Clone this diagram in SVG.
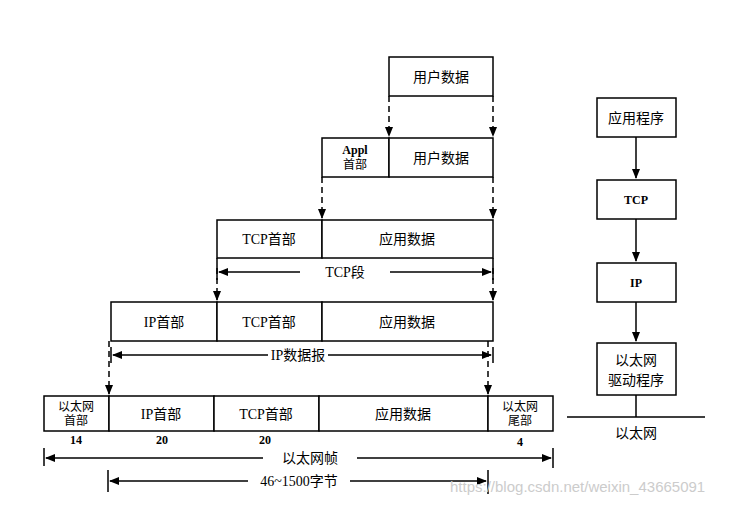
<svg xmlns="http://www.w3.org/2000/svg" width="730" height="505" viewBox="0 0 730 505">
<style>
.b{fill:#fff;stroke:#000;stroke-width:1.5}
.t{font-family:"Liberation Serif","Noto Sans CJK SC",serif;font-size:14px;text-anchor:middle;dominant-baseline:central}
.s{font-size:12px}
.d{stroke:#000;stroke-width:1.5;stroke-dasharray:6,4;fill:none;marker-end:url(#a)}
.l{stroke:#000;stroke-width:1.5;fill:none}
.m{marker-end:url(#a)}
</style>
<defs><marker id="a" markerWidth="10" markerHeight="8" refX="9" refY="4" orient="auto" markerUnits="userSpaceOnUse"><path d="M0,0L10,4L0,8z"/></marker></defs>
<rect width="730" height="505" fill="#fff"/>
<g id="connectors">
<path class="d" d="M389,96V136"/><path class="d" d="M493,96V136"/><path class="d" d="M322,177V218"/><path class="d" d="M493,177V218"/><path class="d" d="M217,258V300"/><path class="d" d="M493,258V300"/><path class="d" d="M109,341V394"/><path class="d" d="M488,341V394"/>
<path class="l m" d="M300,272H219"/><path class="l m" d="M390,272H491"/><path class="l m" d="M268,355H113"/><path class="l m" d="M328,355H491"/><path class="l m" d="M263,458H46"/><path class="l m" d="M357,458H551"/><path class="l m" d="M248,481H110"/><path class="l m" d="M350,481H486"/>
<path class="l" d="M217,264V280M493,264V280M111,347V363M493,347V363M44,448V466M553,448V468M108,470V492M488,470V494"/>
<path class="l m" d="M636,137V178"/><path class="l m" d="M636,219V261"/><path class="l m" d="M636,302V341"/>
<path class="l" d="M567,417H705M636,395V417"/>
</g>
<g id="row1"><rect class="b" x="389" y="57" width="104" height="39"/><text class="t" x="441" y="77">用户数据</text></g>
<g id="row2"><rect class="b" x="322" y="138" width="67" height="39"/><text class="t s" x="355" y="150" font-weight="bold">Appl</text><text class="t s" x="355" y="165">首部</text><rect class="b" x="389" y="138" width="104" height="39"/><text class="t" x="441" y="158">用户数据</text></g>
<g id="row3"><rect class="b" x="217" y="220" width="105" height="38"/><text class="t" x="269" y="239">TCP首部</text><rect class="b" x="322" y="220" width="171" height="38"/><text class="t" x="407" y="239">应用数据</text><text class="t" x="345" y="272">TCP段</text></g>
<g id="row4"><rect class="b" x="111" y="302" width="106" height="39"/><text class="t" x="164" y="322">IP首部</text><rect class="b" x="217" y="302" width="105" height="39"/><text class="t" x="269" y="322">TCP首部</text><rect class="b" x="322" y="302" width="171" height="39"/><text class="t" x="407" y="322">应用数据</text><text class="t" x="298" y="355">IP数据报</text></g>
<g id="row5">
<rect class="b" x="44" y="396" width="65" height="35"/><text class="t s" x="76" y="407">以太网</text><text class="t s" x="76" y="421">首部</text>
<rect class="b" x="109" y="396" width="105" height="35"/><text class="t" x="161" y="414">IP首部</text>
<rect class="b" x="214" y="396" width="105" height="35"/><text class="t" x="266" y="414">TCP首部</text>
<rect class="b" x="319" y="396" width="169" height="35"/><text class="t" x="403" y="414">应用数据</text>
<rect class="b" x="488" y="396" width="65" height="35"/><text class="t s" x="520" y="407">以太网</text><text class="t s" x="520" y="421">尾部</text>
<text class="t s" x="76" y="440" font-weight="bold">14</text><text class="t s" x="162" y="440" font-weight="bold">20</text><text class="t s" x="265" y="440" font-weight="bold">20</text><text class="t s" x="520" y="442" font-weight="bold">4</text>
<text class="t" x="310" y="458">以太网帧</text><text class="t" x="299" y="481">46~1500字节</text>
</g>
<g id="app"><rect class="b" x="597" y="98" width="79" height="39"/><text class="t" x="636" y="118">应用程序</text></g>
<g id="tcp"><rect class="b" x="597" y="180" width="79" height="39"/><text class="t s" x="636" y="200" font-weight="bold">TCP</text></g>
<g id="ip"><rect class="b" x="597" y="263" width="79" height="39"/><text class="t s" x="636" y="283" font-weight="bold">IP</text></g>
<g id="drv"><rect class="b" x="597" y="343" width="79" height="52"/><text class="t" x="636" y="360">以太网</text><text class="t" x="636" y="380">驱动程序</text></g>
<text class="t" x="636" y="433">以太网</text>
<text x="450" y="492" font-family="Liberation Sans,sans-serif" font-size="15" fill="#ccc">https://blog.csdn.net/weixin_43665091</text>
</svg>
